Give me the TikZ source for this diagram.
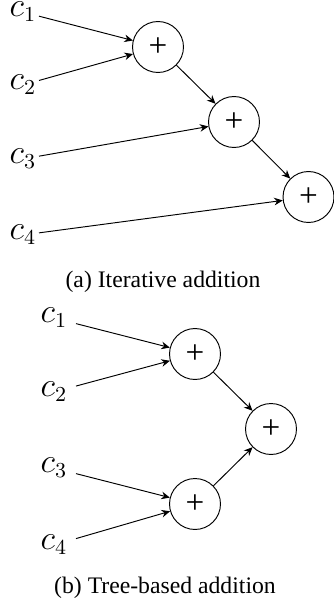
\documentclass[tikz,border=0pt]{standalone}
\usepackage{fontspec}
\setmainfont{Liberation Serif}
\usetikzlibrary{arrows.meta}
\newcommand{\cv}[1]{{\fontsize{13.5}{15}\selectfont$c_{#1}$}}
\begin{document}
\begin{tikzpicture}[x=0.4219pt,y=-0.4219pt,
  sumnode/.style={circle,draw,minimum size=21.5pt,inner sep=0pt,line width=0.4pt,font=\fontsize{14}{16}\selectfont},
  lbla/.style={anchor=east,inner xsep=1pt,inner ysep=1pt},
  lblb/.style={anchor=east,inner xsep=3.5pt,inner ysep=1pt},
  arr/.style={-{Stealth[length=3.6pt,width=3.2pt]},line width=0.4pt},
  captext/.style={font=\fontsize{10}{12}\selectfont}]
\useasboundingbox (0,0) rectangle (334,607);
% (a) iterative
\node[sumnode] (a1) at (158,47) {+};
\node[sumnode] (a2) at (234,122) {+};
\node[sumnode] (a3) at (308.5,197) {+};
\node[lbla] (ac1) at (39,12) {\cv{1}};
\node[lbla] (ac2) at (39,85) {\cv{2}};
\node[lbla] (ac3) at (39,159) {\cv{3}};
\node[lbla] (ac4) at (39,235) {\cv{4}};
\draw[arr] (ac1) -- (a1);
\draw[arr] (ac2) -- (a1);
\draw[arr] (a1) -- (a2);
\draw[arr] (ac3) -- (a2);
\draw[arr] (a2) -- (a3);
\draw[arr] (ac4) -- (a3);
\node[captext] (capa) at (163,282) {(a) Iterative addition};
% (b) tree
\node[sumnode] (b1) at (195,354) {+};
\node[sumnode] (b2) at (271,429) {+};
\node[sumnode] (b3) at (195,504) {+};
\node[lblb] (bc1) at (76,318) {\cv{1}};
\node[lblb] (bc2) at (76,392) {\cv{2}};
\node[lblb] (bc3) at (76,468) {\cv{3}};
\node[lblb] (bc4) at (76,545) {\cv{4}};
\draw[arr] (bc1) -- (b1);
\draw[arr] (bc2) -- (b1);
\draw[arr] (bc3) -- (b3);
\draw[arr] (bc4) -- (b3);
\draw[arr] (b1) -- (b2);
\draw[arr] (b3) -- (b2);
\node[captext] (capb) at (165,588) {(b) Tree-based addition};
\end{tikzpicture}
\end{document}
